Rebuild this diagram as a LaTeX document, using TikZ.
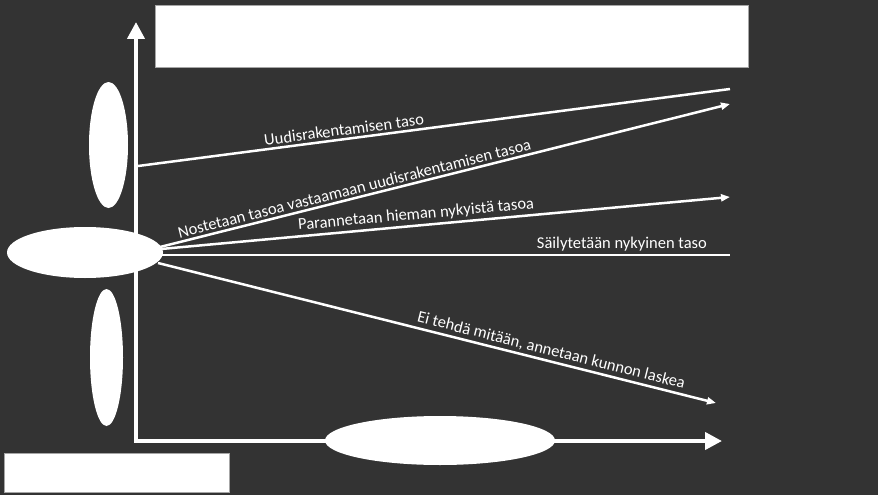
\documentclass[tikz,border=0pt]{standalone}
\usepackage{fontspec}
\setmainfont{Carlito}
\usetikzlibrary{shapes.geometric,arrows.meta}
\definecolor{slidebg}{RGB}{51,51,51}
\tikzset{
  blank/.style={fill=white,draw=none,ellipse,inner sep=0pt},
  card/.style={fill=white,draw=gray!70,rectangle,inner sep=0pt,anchor=north west},
  axis/.style={white,line width=4pt,-{Triangle[length=17pt,width=17pt]}},
  trend/.style={white,line width=2.5pt},
  tip/.style={-{Triangle[length=9pt,width=7pt]}},
  lbl/.style={text=white,font=\fontsize{16.5}{19}\selectfont,sloped,above,inner sep=2.5pt}
}
\begin{document}
\begin{tikzpicture}[x=1pt,y=-1pt]
  \fill[slidebg] (0,0) rectangle (878,495);
  \useasboundingbox (0,0) rectangle (878,495);
  % axes
  \coordinate (orig) at (136,441);
  \coordinate (ytop) at (136,22);
  \coordinate (xend) at (722,441);
  \draw[axis] ([yshift=2pt]orig) -- (ytop);
  \draw[axis] ([xshift=-2pt]orig) -- (xend);
  % end points of the scenarios
  \coordinate (s1) at (138,166);  \coordinate (e1) at (730,89);
  \coordinate (s2) at (160,247);  \coordinate (e2) at (730,104);
  \coordinate (s3) at (161,249);  \coordinate (e3) at (730,197);
  \coordinate (s4) at (161,255);  \coordinate (e4) at (730,255);
  \coordinate (s5) at (158,263);  \coordinate (e5) at (716,403);
  \draw[trend] (s1) -- (e1) node[lbl,pos=0.35] {Uudisrakentamisen taso};
  \draw[trend,tip] (s2) -- (e2) node[lbl,pos=0.345] {Nostetaan tasoa vastaamaan uudisrakentamisen tasoa};
  \draw[trend,tip] (s3) -- (e3) node[lbl,pos=0.45] {Parannetaan hieman nykyistä tasoa};
  \draw[trend] (s4) -- (e4) node[lbl,pos=0.81] {Säilytetään nykyinen taso};
  \draw[trend,tip] (s5) -- (e5) node[lbl,pos=0.70] {Ei tehdä mitään, annetaan kunnon laskea};
  % blanked labels
  \node[blank,minimum width=39pt,minimum height=126pt] (up) at (108.5,145) {};
  \node[blank,minimum width=156pt,minimum height=51pt] (mid) at (85,252.5) {};
  \node[blank,minimum width=33pt,minimum height=137pt] (down) at (106.5,357.5) {};
  \node[blank,minimum width=230pt,minimum height=49pt] (xlab) at (440,440.5) {};
  \node[card,minimum width=593pt,minimum height=62pt] (title) at (155,5) {};
  \node[card,minimum width=225pt,minimum height=39pt] (note) at (4,453) {};
\end{tikzpicture}
\end{document}
